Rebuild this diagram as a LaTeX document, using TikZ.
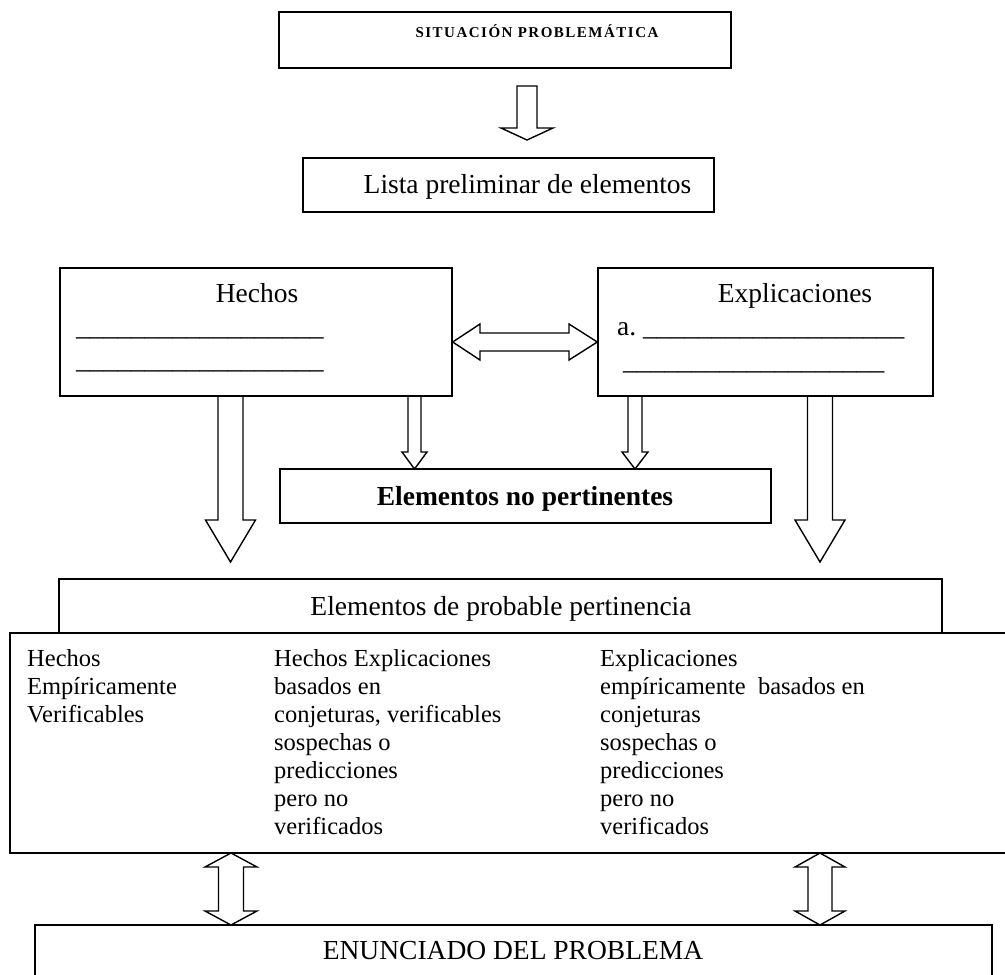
\documentclass[tikz,border=0pt]{standalone}
\usepackage{fontspec}
\setmainfont{Liberation Serif}
\newfontfamily\sitfont[LetterSpace=10]{Liberation Serif}
\newcommand\blockdown[6]{%
  \draw[arr] ({#1-#5},#2) -- ({#1+#5},#2) -- ({#1+#5},#3) -- ({#1+#6},#3) -- (#1,#4)
    -- ({#1-#6},#3) -- ({#1-#5},#3) -- cycle;}
\newcommand\blockupdown[7]{%
  \draw[arr] (#1,#2) -- ({#1+#7},#3) -- ({#1+#6},#3) -- ({#1+#6},#4) -- ({#1+#7},#4) -- (#1,#5)
    -- ({#1-#7},#4) -- ({#1-#6},#4) -- ({#1-#6},#3) -- ({#1-#7},#3) -- cycle;}
\begin{document}
\begin{tikzpicture}[x=1pt,y=-1pt,
  box/.style={draw, line width=1.4pt, inner sep=0pt},
  arr/.style={draw, line width=1.4pt, line join=miter},
  lbl/.style={inner sep=0pt, anchor=base},
  big/.style={font=\fontsize{27.5}{33}\selectfont},
  tab/.style={inner sep=0pt, anchor=base west, font=\fontsize{24.5}{28}\selectfont}]
\useasboundingbox (0,0) rectangle (1005,975);

% boxes
\node[box, minimum width=452pt, minimum height=56pt] (sit) at (505,40) {};
\node[box, minimum width=411pt, minimum height=54pt] (lista) at (508.5,185) {};
\node[box, minimum width=392pt, minimum height=128pt] (hechos) at (256,332) {};
\node[box, minimum width=335pt, minimum height=128pt] (expl) at (765.5,332) {};
\node[box, minimum width=491pt, minimum height=54pt] (nopert) at (525.5,496) {};
\node[box, minimum width=883pt, minimum height=54pt] (prob) at (500.5,606) {};
\node[box, minimum width=1002pt, minimum height=220pt] (tabla) at (511,743) {};
\node[box, minimum width=957pt, minimum height=60pt] (enun) at (513.5,955) {};

% titles
\node[lbl, font=\sitfont\bfseries\fontsize{15}{18}\selectfont] (sitT) at (537,37) {SITUACIÓN PROBLEMÁTICA};
\node[lbl, big] (listaT) at (527.5,193) {Lista preliminar de elementos};
\node[lbl, big] (hechosT) at (257,302) {Hechos};
\node[lbl, big, anchor=base west] (hechosL1) at (76,335) {\_\_\_\_\_\_\_\_\_\_\_\_\_\_\_\_\_\_};
\node[lbl, big, anchor=base west] (hechosL2) at (76,368) {\_\_\_\_\_\_\_\_\_\_\_\_\_\_\_\_\_\_};
\node[lbl, big] (explT) at (795,302) {Explicaciones};
\node[lbl, big, anchor=base west] (explA) at (617,335) {a.};
\node[lbl, big, anchor=base west] (explL1) at (643,335) {\_\_\_\_\_\_\_\_\_\_\_\_\_\_\_\_\_\_\_};
\node[lbl, big, anchor=base west] (explL2) at (623,369) {\_\_\_\_\_\_\_\_\_\_\_\_\_\_\_\_\_\_\_};
\node[lbl, big, font=\bfseries\fontsize{27.5}{33}\selectfont] (nopertT) at (525,505) {Elementos no pertinentes};
\node[lbl, big] (probT) at (501,615) {Elementos de probable pertinencia};
\node[lbl, big] (enunT) at (513,959) {ENUNCIADO DEL PROBLEMA};

% table columns
\foreach \t [count=\i from 0] in {Hechos, Empíricamente, Verificables}
  \node[tab] (ca\i) at (27,{666+28*\i}) {\t};
\foreach \t [count=\i from 0] in {Hechos Explicaciones, basados en, {conjeturas, verificables}, sospechas o, predicciones, pero no, verificados}
  \node[tab] (cb\i) at (274,{666+28*\i}) {\t};
\foreach \t [count=\i from 0] in {Explicaciones, empíricamente\ \ basados en, conjeturas, sospechas o, predicciones, pero no, verificados}
  \node[tab] (cc\i) at (600,{666+28*\i}) {\t};

% arrows
\blockdown{527}{86}{128}{140}{10}{26}
\blockdown{230.5}{396}{520}{562}{12.5}{25}
\blockdown{414.5}{396}{452}{469}{6.5}{12.5}
\blockdown{635}{396}{452}{469}{7}{13}
\blockdown{820}{396}{520}{562}{12.5}{25}
\draw[arr] (hechos.east |- 0,342) -- (480,324) -- (480,333) -- (569,333) -- (569,324)
  -- (expl.west |- 0,342) -- (569,360) -- (569,351) -- (480,351) -- (480,360) -- cycle;
\blockupdown{231}{853}{867}{911}{925}{12.5}{26}
\blockupdown{820}{853}{867}{911}{925}{12}{25}
\end{tikzpicture}
\end{document}
